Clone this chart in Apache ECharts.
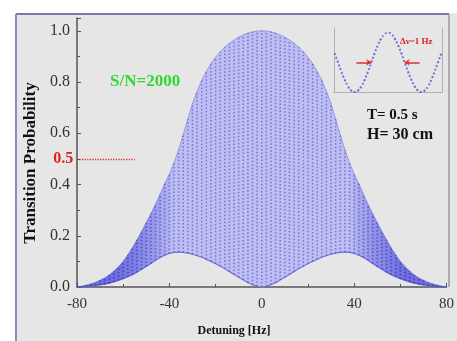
<!DOCTYPE html>
<html>
<head>
<meta charset="utf-8">
<script src="https://cdn.jsdelivr.net/npm/echarts@6/dist/echarts.min.js"></script>
<style>
  html, body { margin: 0; padding: 0; background: #fff; }
  #main { width: 457px; height: 341px; }
</style>
</head>
<body>
<div id="main"></div>
<script>
// detuning in Hz, 2 Hz steps
var detuning = [-80, -78, -76, -74, -72, -70, -68, -66, -64, -62, -60, -58, -56, -54, -52, -50, -48, -46, -44, -42,
  -40, -38, -36, -34, -32, -30, -28, -26, -24, -22, -20, -18, -16, -14, -12, -10, -8, -6, -4, -2,
  0, 2, 4, 6, 8, 10, 12, 14, 16, 18, 20, 22, 24, 26, 28, 30, 32, 34, 36, 38,
  40, 42, 44, 46, 48, 50, 52, 54, 56, 58, 60, 62, 64, 66, 68, 70, 72, 74, 76, 78, 80];

// upper envelope of the fringes
var upperEnv = [0.000, 0.003, 0.007, 0.012, 0.018, 0.026, 0.035, 0.047, 0.062, 0.079, 0.100, 0.125, 0.153, 0.184, 0.217, 0.251, 0.286, 0.323, 0.362, 0.404,
  0.440, 0.485, 0.535, 0.595, 0.655, 0.716, 0.764, 0.806, 0.842, 0.872, 0.897, 0.918, 0.936, 0.951, 0.964, 0.975, 0.984, 0.991, 0.996, 0.999,
  1.000, 0.999, 0.996, 0.991, 0.984, 0.975, 0.964, 0.951, 0.936, 0.918, 0.897, 0.872, 0.842, 0.806, 0.764, 0.716, 0.655, 0.595, 0.535, 0.485,
  0.440, 0.404, 0.362, 0.323, 0.286, 0.251, 0.217, 0.184, 0.153, 0.125, 0.100, 0.079, 0.062, 0.047, 0.035, 0.026, 0.018, 0.012, 0.007, 0.003, 0.000];

// lower envelope of the fringes
var lowerEnv = [0.000, 0.001, 0.002, 0.004, 0.006, 0.008, 0.011, 0.015, 0.020, 0.026, 0.032, 0.040, 0.048, 0.058, 0.069, 0.080, 0.092, 0.104, 0.115, 0.124,
  0.131, 0.135, 0.136, 0.135, 0.132, 0.128, 0.122, 0.116, 0.108, 0.100, 0.091, 0.081, 0.071, 0.060, 0.049, 0.038, 0.027, 0.017, 0.009, 0.003,
  0.000, 0.003, 0.009, 0.017, 0.027, 0.038, 0.049, 0.060, 0.071, 0.081, 0.091, 0.100, 0.108, 0.116, 0.122, 0.128, 0.132, 0.135, 0.136, 0.135,
  0.131, 0.124, 0.115, 0.104, 0.092, 0.080, 0.069, 0.058, 0.048, 0.040, 0.032, 0.026, 0.020, 0.015, 0.011, 0.008, 0.006, 0.004, 0.002, 0.001, 0.000];

// inset: central fringe
var insetX = [-1.6, -1.5, -1.4, -1.3, -1.2, -1.1, -1.0, -0.9, -0.8, -0.7, -0.6, -0.5, -0.4, -0.3, -0.2, -0.1, 0,
  0.1, 0.2, 0.3, 0.4, 0.5, 0.6, 0.7, 0.8, 0.9, 1.0, 1.1, 1.2, 1.3, 1.4, 1.5, 1.6];
var insetP = [0.655, 0.500, 0.345, 0.206, 0.095, 0.024, 0.000, 0.024, 0.095, 0.206, 0.345, 0.500, 0.655, 0.794, 0.905, 0.976, 1.000,
  0.976, 0.905, 0.794, 0.655, 0.500, 0.345, 0.206, 0.095, 0.024, 0.000, 0.024, 0.095, 0.206, 0.345, 0.500, 0.655];

var halfMax = 0.5;

var serif = '"Liberation Serif", "DejaVu Serif", serif';
var axisColor = '#555';

var chartDom = document.getElementById('main');
var myChart = echarts.init(chartDom);

var lowerData = detuning.map(function (x, i) { return [x, lowerEnv[i]]; });
var upperData = detuning.map(function (x, i) { return [x, upperEnv[i]]; });
var fringeData = detuning.map(function (x, i) { return [x, lowerEnv[i], upperEnv[i]]; });
// band between the envelopes, one slab per interval
var bandData = [];
for (var i = 0; i < detuning.length - 1; i++) {
  bandData.push([detuning[i], lowerEnv[i], upperEnv[i], detuning[i + 1], lowerEnv[i + 1], upperEnv[i + 1]]);
}
var insetData = insetX.map(function (x, i) { return [x, insetP[i]]; });

// the fringes pile up where the band is narrow, so it looks darker there
function bandColor(w, light, dark) {
  var t = Math.max(0, Math.min(1, (0.35 - w) / 0.3));
  var r = Math.round(light[0] + (dark[0] - light[0]) * t);
  var g = Math.round(light[1] + (dark[1] - light[1]) * t);
  var b = Math.round(light[2] + (dark[2] - light[2]) * t);
  return 'rgb(' + r + ',' + g + ',' + b + ')';
}

var option = {
  backgroundColor: '#e6e6e6',
  animation: false,
  grid: [
    { left: 77, right: 7, top: 18, bottom: 54 },
    { left: 334, top: 28, width: 108, height: 64 }
  ],
  xAxis: [
    {
      type: 'value', gridIndex: 0, min: -80, max: 80, interval: 40,
      axisLine: { onZero: false, lineStyle: { color: axisColor, width: 1.5 } },
      axisTick: { inside: true, length: 4, lineStyle: { color: axisColor } },
      minorTick: { show: true, splitNumber: 2, length: 3, lineStyle: { color: axisColor } },
      splitLine: { show: false },
      axisLabel: { fontFamily: serif, fontSize: 15, color: '#333', margin: 10 }
    },
    {
      type: 'value', gridIndex: 1, min: -1.62, max: 1.62,
      axisLine: { onZero: false, lineStyle: { color: '#b0b0b0', width: 1 } },
      axisTick: { show: false }, axisLabel: { show: false }, splitLine: { show: false }
    }
  ],
  yAxis: [
    {
      type: 'value', gridIndex: 0, min: 0, max: 1.05, interval: 0.2,
      axisLine: { show: true, onZero: false, lineStyle: { color: axisColor, width: 1.5 } },
      axisTick: { show: true, inside: true, length: 4, lineStyle: { color: axisColor } },
      minorTick: { show: true, splitNumber: 2, length: 3, lineStyle: { color: axisColor } },
      splitLine: { show: false },
      axisLabel: {
        fontFamily: serif, fontSize: 16, color: '#333', margin: 7, showMaxLabel: false,
        formatter: function (v) { return v > 1.001 ? '' : v.toFixed(1); }
      }
    },
    {
      type: 'value', gridIndex: 1, min: 0, max: 1.08,
      axisLine: { show: true, onZero: false, lineStyle: { color: '#b0b0b0', width: 1 } },
      axisTick: { show: false }, axisLabel: { show: false }, splitLine: { show: false }
    },
    {
      type: 'value', gridIndex: 1, min: 0, max: 1.08, position: 'right',
      axisLine: { show: true, onZero: false, lineStyle: { color: '#b0b0b0', width: 1 } },
      axisTick: { show: false }, axisLabel: { show: false }, splitLine: { show: false }
    }
  ],
  series: [
    {
      name: 'band',
      type: 'custom', xAxisIndex: 0, yAxisIndex: 0, silent: true,
      data: bandData,
      encode: { x: [0, 3], y: [1, 2, 4, 5] },
      renderItem: function (params, api) {
        var a = api.coord([api.value(0), api.value(1)]);
        var b = api.coord([api.value(3), api.value(4)]);
        var c = api.coord([api.value(3), api.value(5)]);
        var d = api.coord([api.value(0), api.value(2)]);
        var w = (api.value(2) - api.value(1) + api.value(5) - api.value(4)) / 2;
        var col = bandColor(w, [190, 190, 242], [110, 110, 222]);
        return {
          type: 'polygon',
          shape: { points: [a, b, c, d] },
          style: { fill: col, stroke: col, lineWidth: 0.6 }
        };
      }
    },
    {
      name: 'fringes',
      type: 'custom', xAxisIndex: 0, yAxisIndex: 0, silent: true,
      data: fringeData,
      encode: { x: 0, y: [1, 2] },
      renderItem: function (params, api) {
        var p0 = api.coord([api.value(0), api.value(1)]);
        var p1 = api.coord([api.value(0), api.value(2)]);
        var w = api.value(2) - api.value(1);
        return {
          type: 'line',
          shape: { x1: p0[0], y1: p0[1], x2: p1[0], y2: p1[1] },
          style: { stroke: bandColor(w, [90, 90, 212], [40, 40, 190]), opacity: 0.75, lineWidth: 1.5, lineDash: [1.5, 2] }
        };
      }
    },
    {
      name: 'lower',
      type: 'line', xAxisIndex: 0, yAxisIndex: 0,
      symbol: 'none', silent: true,
      data: lowerData,
      lineStyle: { color: 'rgba(60,60,200,0.55)', width: 1.2 },
      markLine: {
        silent: true, symbol: 'none',
        lineStyle: { color: '#e03030', type: 'dotted', width: 1.3 },
        label: {
          show: true, position: 'start', formatter: '0.5', distance: 6,
          color: '#e02020', fontFamily: serif, fontSize: 16, fontWeight: 'bold'
        },
        data: [[{ coord: [-79, halfMax] }, { coord: [-55, halfMax] }]]
      }
    },
    {
      name: 'upper',
      type: 'line', xAxisIndex: 0, yAxisIndex: 0,
      symbol: 'none', silent: true,
      data: upperData,
      lineStyle: { color: 'rgba(90,90,210,0.4)', width: 1 }
    },
    {
      name: 'inset',
      type: 'line', xAxisIndex: 1, yAxisIndex: 1,
      symbol: 'none', smooth: true, silent: true,
      data: insetData,
      lineStyle: { color: '#7070da', width: 2, type: [2, 2] },
      markLine: {
        silent: true, symbol: ['none', 'arrow'], symbolSize: 5,
        lineStyle: { color: '#e03030', width: 1.5, type: 'solid' },
        label: { show: false },
        data: [
          [{ coord: [-0.95, halfMax] }, { coord: [-0.5, halfMax] }],
          [{ coord: [0.95, halfMax] }, { coord: [0.5, halfMax] }]
        ]
      }
    }
  ],
  graphic: [
    { type: 'rect', shape: { x: 0, y: 0, width: 457, height: 13 }, style: { fill: '#fff' }, z: 100 },
    { type: 'rect', shape: { x: 0, y: 0, width: 15, height: 341 }, style: { fill: '#fff' }, z: 100 },
    { type: 'line', shape: { x1: 16, y1: 14, x2: 449, y2: 14 }, style: { stroke: '#7878a8', lineWidth: 2 }, z: 101 },
    { type: 'line', shape: { x1: 16, y1: 14, x2: 16, y2: 341 }, style: { stroke: '#8a8ad0', lineWidth: 2 }, z: 101 },
    { type: 'line', shape: { x1: 449, y1: 14, x2: 449, y2: 287 }, style: { stroke: '#9a9a9a', lineWidth: 1.5 }, z: 101 },
    {
      type: 'text', x: 110, y: 82, z: 101,
      style: { text: 'S/N=2000', fill: '#30d830', font: 'bold 17px ' + serif, verticalAlign: 'middle' }
    },
    {
      type: 'text', x: 400, y: 42, z: 101,
      style: { text: 'Δν=1 Hz', fill: '#e02020', font: 'bold 9px ' + serif, verticalAlign: 'middle' }
    },
    {
      type: 'text', x: 367, y: 115, z: 101,
      style: { text: 'T= 0.5 s', fill: '#111', font: 'bold 15px ' + serif, verticalAlign: 'middle' }
    },
    {
      type: 'text', x: 367, y: 135, z: 101,
      style: { text: 'H= 30 cm', fill: '#111', font: 'bold 16px ' + serif, verticalAlign: 'middle' }
    },
    {
      type: 'text', x: 31, y: 163, rotation: Math.PI / 2, z: 101,
      style: { text: 'Transition Probability', fill: '#111', font: 'bold 17px ' + serif, align: 'center', verticalAlign: 'middle' }
    },
    {
      type: 'text', x: 234, y: 331, z: 101,
      style: { text: 'Detuning [Hz]', fill: '#111', font: 'bold 12px ' + serif, align: 'center', verticalAlign: 'middle' }
    }
  ]
};

option && myChart.setOption(option);
</script>
</body>
</html>
